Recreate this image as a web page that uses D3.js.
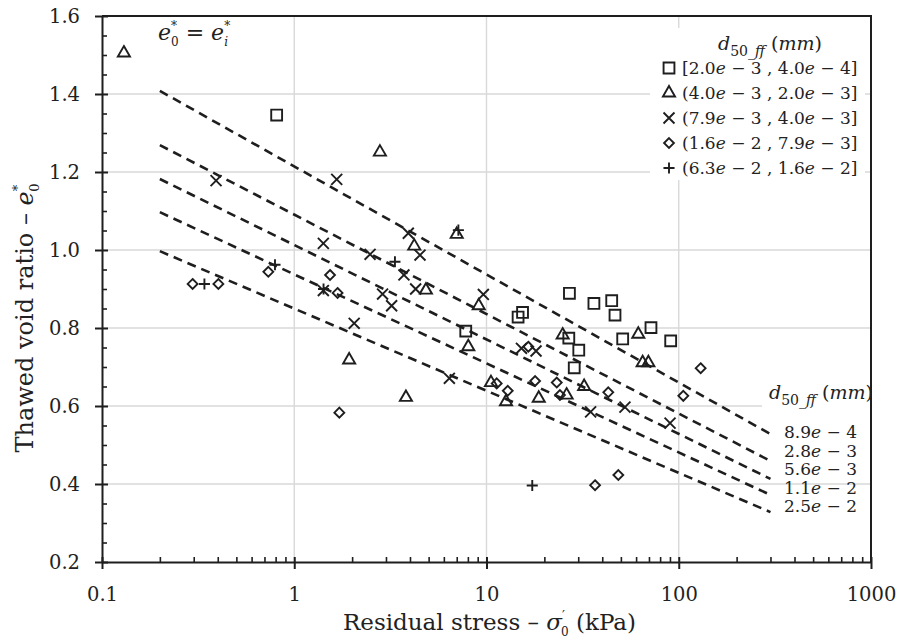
<!DOCTYPE html>
<html>
<head>
<meta charset="utf-8">
<script src="https://cdn.jsdelivr.net/npm/d3@7"></script>
<style>
  body { margin: 0; background: #fff; }
  svg { display: block; }
</style>
</head>
<body>
<svg id="chart" width="897" height="643"></svg>
<script>
// ---------- data ----------
const xTickValues = [0.1, 1, 10, 100, 1000];
const xTickLabels = ["0.1", "1", "10", "100", "1000"];
const yTickValues = [0.2, 0.4, 0.6, 0.8, 1.0, 1.2, 1.4, 1.6];

const seriesLabels = [
  "[2.0e − 3 , 4.0e − 4]",
  "(4.0e − 3 , 2.0e − 3]",
  "(7.9e − 3 , 4.0e − 3]",
  "(1.6e − 2 , 7.9e − 3]",
  "(6.3e − 2 , 1.6e − 2]"
];

// series 1: squares
const stress1 = [0.81, 7.8, 14.6, 15.4, 27.0, 36.2, 44.8, 46.6, 26.8, 30.2, 28.6, 51.1, 71.7, 90.8];
const void1   = [1.346, 0.792, 0.828, 0.840, 0.889, 0.863, 0.870, 0.833, 0.774, 0.743, 0.698, 0.772, 0.801, 0.767];

// series 2: triangles
const stress2 = [0.13, 2.79, 7.0, 4.21, 4.84, 9.11, 8.04, 1.93, 3.81, 10.55, 12.63, 18.7, 26.1, 32.2, 24.9, 61.6, 64.9, 69.5];
const void2   = [1.505, 1.251, 1.040, 1.010, 0.897, 0.857, 0.752, 0.718, 0.622, 0.660, 0.611, 0.620, 0.628, 0.650, 0.782, 0.784, 0.711, 0.711];

// series 3: crosses
const stress3 = [0.392, 1.663, 1.417, 1.417, 2.48, 3.92, 4.51, 3.72, 4.28, 2.88, 3.21, 2.05, 9.63, 6.41, 15.2, 18.1, 34.8, 52.5, 90.1];
const void3   = [1.178, 1.181, 1.017, 0.896, 0.989, 1.043, 0.987, 0.936, 0.900, 0.887, 0.857, 0.812, 0.886, 0.671, 0.748, 0.741, 0.585, 0.597, 0.556];

// series 4: diamonds
const stress4 = [0.296, 0.403, 0.733, 1.535, 1.68, 1.716, 16.5, 11.3, 12.9, 17.9, 23.2, 24.1, 43.0, 105.6, 130, 48.5, 36.7];
const void4   = [0.913, 0.913, 0.944, 0.936, 0.890, 0.583, 0.752, 0.658, 0.639, 0.664, 0.660, 0.628, 0.635, 0.626, 0.697, 0.423, 0.397];

// series 5: plus signs
const stress5 = [0.341, 0.794, 1.42, 3.34, 7.14, 17.3];
const void5   = [0.913, 0.962, 0.900, 0.970, 1.051, 0.396];

// fitted trend lines, one per d50_ff value
const fitLabels = ["8.9e − 4", "2.8e − 3", "5.6e − 3", "1.1e − 2", "2.5e − 2"];
const fitStress = [0.2, 300];
const fitVoidStart = [1.408, 1.269, 1.182, 1.097, 0.997];
const fitVoidEnd   = [0.528, 0.459, 0.413, 0.372, 0.328];

// ---------- layout ----------
const svg = d3.select("#chart");
const margin = { left: 102, right: 26, top: 16, bottom: 81 };
const W = 897, H = 643;
const x = d3.scaleLog().domain([0.1, 1000]).range([margin.left, W - margin.right]);
const y = d3.scaleLinear().domain([0.2, 1.6]).range([H - margin.bottom, margin.top]);
const ink = "#1e1e1e";
const serif = "'DejaVu Serif', serif";

// helper: text made of styled runs (italic, subscript, superscript)
function rich(textSel, parts) {
  let cur = 0;
  parts.forEach(p => {
    const shift = p.shift || 0;
    const ts = textSel.append("tspan").text(p.t);
    if (shift !== cur) { ts.attr("dy", shift - cur); cur = shift; }
    if (p.it) ts.attr("font-style", "italic");
    if (p.size) ts.attr("font-size", p.size);
    if (p.dx) ts.attr("dx", p.dx);
  });
  if (cur !== 0) textSel.append("tspan").attr("dy", -cur).text("");
  return textSel;
}
function italicE(str) {
  return str.split(/(e)/).filter(s => s.length).map(s => ({ t: s, it: s === "e" }));
}
function d50Header(size) {
  const s = size * 0.74;
  const d = size * 0.3;
  return [
    { t: "d", it: true },
    { t: "50", size: s, shift: d },
    { t: "_", size: s, shift: d },
    { t: "ff", it: true, size: s, shift: d },
    { t: " (", shift: 0 },
    { t: "mm", it: true },
    { t: ")" }
  ];
}

// ---------- gridlines ----------
const grid = svg.append("g").attr("stroke", "#d9d9d9").attr("stroke-width", 1.4);
grid.selectAll("line.h").data(yTickValues.slice(1, -1)).join("line")
  .attr("x1", x.range()[0]).attr("x2", x.range()[1])
  .attr("y1", d => y(d)).attr("y2", d => y(d));
grid.selectAll("line.v").data(xTickValues.slice(1, -1)).join("line")
  .attr("y1", y.range()[1]).attr("y2", y.range()[0])
  .attr("x1", d => x(d)).attr("x2", d => x(d));

// white backing behind the legend and the trend-line header
svg.append("rect").attr("x", 650).attr("y", 28).attr("width", 215).attr("height", 152).attr("fill", "#fff");
svg.append("rect").attr("x", 762).attr("y", 380).attr("width", 108).attr("height", 27).attr("fill", "#fff");

// ---------- trend lines ----------
const lineGen = d3.line().x(d => x(d[0])).y(d => y(d[1]));
svg.append("g").selectAll("path").data(fitVoidStart.map((v, i) => [[fitStress[0], v], [fitStress[1], fitVoidEnd[i]]]))
  .join("path")
  .attr("d", lineGen)
  .attr("fill", "none").attr("stroke", ink).attr("stroke-width", 2.6)
  .attr("stroke-dasharray", "9,6");

// ---------- axes ----------
const xMinor = [];
for (let dec = 0.1; dec < 1000; dec *= 10) for (let k = 2; k <= 9; k++) xMinor.push(+(dec * k).toPrecision(3));
const yMinor = d3.range(0.25, 1.6, 0.05).map(v => +v.toFixed(2)).filter(v => Math.abs(v * 5 - Math.round(v * 5)) > 1e-6);

const xAxisG = svg.append("g").attr("transform", `translate(0,${y(0.2)})`);
xAxisG.append("g").call(d3.axisBottom(x).tickValues(xMinor).tickSize(-5).tickFormat(""))
  .call(g => g.select(".domain").remove())
  .selectAll("line").attr("stroke", ink).attr("stroke-width", 1.6);
xAxisG.append("g").call(d3.axisBottom(x).tickValues(xTickValues).tickSizeOuter(0)
    .tickFormat((d, i) => xTickLabels[i]))
  .call(g => g.select(".domain").attr("stroke", ink).attr("stroke-width", 2))
  .call(g => g.selectAll(".tick line").attr("y1", -5).attr("y2", 7).attr("stroke", ink).attr("stroke-width", 2))
  .call(g => g.selectAll(".tick text").attr("y", 0).attr("dy", 39)
    .attr("font-family", serif).attr("font-size", 19.5).attr("fill", "#222"));

const yAxisG = svg.append("g").attr("transform", `translate(${x(0.1)},0)`);
yAxisG.append("g").call(d3.axisLeft(y).tickValues(yMinor).tickSize(-5).tickFormat(""))
  .call(g => g.select(".domain").remove())
  .selectAll("line").attr("stroke", ink).attr("stroke-width", 1.6);
yAxisG.append("g").call(d3.axisLeft(y).tickValues(yTickValues).tickSizeOuter(0).tickFormat(d3.format(".1f")))
  .call(g => g.select(".domain").attr("stroke", ink).attr("stroke-width", 2))
  .call(g => g.selectAll(".tick line").attr("x1", 6).attr("x2", -7).attr("stroke", ink).attr("stroke-width", 2))
  .call(g => g.selectAll(".tick text").attr("x", -22).attr("dy", "0.35em")
    .attr("font-family", serif).attr("font-size", 19.5).attr("fill", "#222"));

// frame: top and right edges of the plot area
svg.append("path")
  .attr("d", `M${x(0.1)},${y(1.6)}H${x(1000)}V${y(0.2)}`)
  .attr("fill", "none").attr("stroke", ink).attr("stroke-width", 2);

// ---------- markers ----------
const symbols = [
  d3.symbol(d3.symbolSquare2, 150),
  d3.symbol(d3.symbolTriangle2, 105),
  d3.symbol(d3.symbolTimes, 80),
  d3.symbol(d3.symbolDiamond2, 62),
  d3.symbol(d3.symbolPlus, 42)
];
const seriesData = [
  [stress1, void1], [stress2, void2], [stress3, void3], [stress4, void4], [stress5, void5]
];
const pts = svg.append("g").attr("fill", "none").attr("stroke", ink).attr("stroke-width", 1.9);
seriesData.forEach(([sx, sy], si) => {
  pts.append("g").selectAll("path").data(sx.map((v, i) => [v, sy[i]])).join("path")
    .attr("transform", d => `translate(${x(d[0])},${y(d[1])})`)
    .attr("d", symbols[si]());
});

// ---------- legend ----------
const legend = svg.append("g").attr("font-family", serif).attr("fill", "#222");
rich(legend.append("text").attr("x", 770).attr("y", 50).attr("text-anchor", "middle").attr("font-size", 19), d50Header(19));
const legY0 = 68, legStep = 25;
seriesLabels.forEach((lab, i) => {
  legend.append("path").attr("transform", `translate(669,${legY0 + i * legStep})`)
    .attr("d", symbols[i]()).attr("fill", "none").attr("stroke", ink).attr("stroke-width", 1.9);
  rich(legend.append("text").attr("x", 682).attr("y", legY0 + i * legStep).attr("dy", "0.36em").attr("font-size", 17), italicE(lab));
});

// trend-line captions
const cap = svg.append("g").attr("font-family", serif).attr("fill", "#222").attr("font-size", 17);
rich(cap.append("text").attr("x", 821).attr("y", 399).attr("text-anchor", "middle").attr("font-size", 19), d50Header(19));
fitLabels.forEach((lab, i) => {
  rich(cap.append("text").attr("x", 784).attr("y", 432 + i * 18.5).attr("dy", "0.36em"), italicE(lab));
});

// annotation e0* = ei*
rich(svg.append("text").attr("x", 158).attr("y", 40).attr("font-family", serif).attr("font-size", 22).attr("fill", "#222"), [
  { t: "e", it: true },
  { t: "*", size: 12, shift: -10 },
  { t: "0", size: 12, shift: 6, dx: -6 },
  { t: " = ", shift: 0 },
  { t: "e", it: true },
  { t: "*", size: 12, shift: -10 },
  { t: "i", it: true, size: 12, shift: 6, dx: -6 }
]);

// ---------- axis titles ----------
rich(svg.append("text").attr("x", (x.range()[0] + x.range()[1]) / 2 + 3).attr("y", 630)
  .attr("text-anchor", "middle").attr("font-family", serif).attr("font-size", 23).attr("fill", "#222"), [
  { t: "Residual stress – " },
  { t: "σ", it: true },
  { t: "′", size: 13, shift: -10 },
  { t: "0", size: 12, shift: 6, dx: -4 },
  { t: " (kPa)", shift: 0 }
]);
rich(svg.append("text")
  .attr("transform", `translate(33,318) rotate(-90)`)
  .attr("text-anchor", "middle").attr("font-family", serif).attr("font-size", 24).attr("fill", "#222"), [
  { t: "Thawed void ratio – " },
  { t: "e", it: true },
  { t: "*", size: 13, shift: -11 },
  { t: "0", size: 13, shift: 6, dx: -7 }
]);
</script>
</body>
</html>
